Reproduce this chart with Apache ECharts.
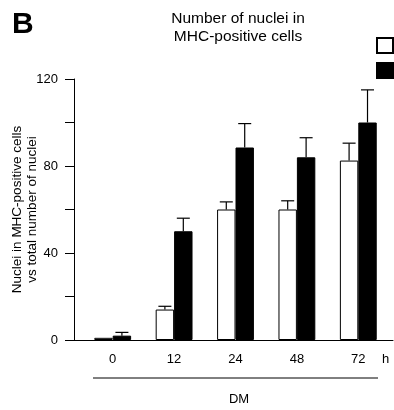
<!DOCTYPE html>
<html>
<head>
<meta charset="utf-8">
<script src="https://cdn.jsdelivr.net/npm/echarts@6/dist/echarts.min.js"></script>
<style>
  html, body { margin: 0; padding: 0; background: #fff; }
  #chart { width: 394px; height: 410px; }
</style>
</head>
<body>
<div id="chart"></div>
<script>
const categories = ['0', '12', '24', '48', '72'];
const openValues = [1, 14, 60, 60, 82.5];
const openErrors = [0, 1.5, 3.5, 4, 8];
const filledValues = [2, 50, 88.5, 84, 100];
const filledErrors = [1.5, 6, 11, 9, 15];
const yTickLabels = [0, 40, 80, 120];

const FONT = '"Liberation Sans", Arial, Helvetica, sans-serif';

const chart = echarts.init(document.getElementById('chart'), null, { renderer: 'canvas' });

// error bar drawn above each bar, shifted to its half of the category band
function errorBar(side) {
  return function (params, api) {
    const idx = api.value(0);
    const val = api.value(1);
    const err = api.value(2);
    if (!err) return null;
    const band = api.size([1, 0])[0];
    const base = api.coord([idx, val]);
    const top = api.coord([idx, val + err]);
    const x = base[0] + side * band * 0.15;
    const style = { stroke: '#000', lineWidth: 1.2 };
    return {
      type: 'group',
      children: [
        { type: 'line', shape: { x1: x, y1: base[1], x2: x, y2: top[1] }, style: style },
        { type: 'line', shape: { x1: x - 6.5, y1: top[1], x2: x + 6.5, y2: top[1] }, style: style },
      ],
    };
  };
}

chart.setOption({
  backgroundColor: '#fff',
  animation: false,
  textStyle: { fontFamily: FONT, color: '#000' },
  title: [
    {
      text: 'B',
      left: 7,
      top: 5,
      textStyle: { fontFamily: FONT, fontSize: 30, fontWeight: 'bold', color: '#000' },
    },
    {
      text: 'Number of nuclei in\nMHC-positive cells',
      left: 233,
      top: 5,
      textAlign: 'center',
      textStyle: { fontFamily: FONT, fontSize: 15.5, fontWeight: 'normal', lineHeight: 18, color: '#000' },
    },
    {
      text: 'DM',
      left: 234,
      top: 388,
      textAlign: 'center',
      textStyle: { fontFamily: FONT, fontSize: 13, fontWeight: 'normal', color: '#000' },
    },
  ],
  legend: {
    orient: 'vertical',
    left: 376,
    top: 37,
    padding: 0,
    itemGap: 8,
    itemWidth: 16,
    itemHeight: 15,
    icon: 'rect',
    formatter: () => '',
    data: ['open', 'filled'],
  },
  graphic: [
    {
      type: 'text',
      left: 382,
      top: 353,
      style: { text: 'h', font: '13px ' + FONT, fill: '#000' },
    },
    {
      type: 'line',
      shape: { x1: 93, y1: 378, x2: 378, y2: 378 },
      style: { stroke: '#000', lineWidth: 1 },
    },
  ],
  grid: [
    { left: 82, right: 5, top: 79, bottom: 70, outerBoundsMode: 'none', containLabel: false },
    { left: 74, right: 1, top: 79, bottom: 70, outerBoundsMode: 'none', containLabel: false },
  ],
  xAxis: [
    {
      type: 'category',
      gridIndex: 0,
      data: categories,
      axisLine: { show: false },
      axisTick: { show: false },
      axisLabel: { color: '#000', fontSize: 13, margin: 13, fontFamily: FONT },
    },
    {
      type: 'value',
      gridIndex: 1,
      min: 0,
      max: 1,
      axisLine: { show: true, onZero: false, lineStyle: { color: '#000', width: 1 } },
      axisTick: { show: false },
      axisLabel: { show: false },
      splitLine: { show: false },
    },
  ],
  yAxis: [
    {
      type: 'value',
      gridIndex: 0,
      min: 0,
      max: 120,
      show: false,
    },
    {
      type: 'value',
      gridIndex: 1,
      min: 0,
      max: 120,
      interval: 20,
      name: 'Nuclei in MHC-positive cells\nvs total number of nuclei',
      nameLocation: 'middle',
      nameGap: 34,
      nameMoveOverlap: false,
      nameTextStyle: { fontFamily: FONT, fontSize: 13.5, lineHeight: 15, color: '#000' },
      axisLine: { show: true, lineStyle: { color: '#000', width: 1 } },
      axisTick: { show: true, length: 9, lineStyle: { color: '#000', width: 1 } },
      axisLabel: {
        color: '#000',
        fontSize: 13,
        margin: 16,
        fontFamily: FONT,
        formatter: (v) => (yTickLabels.includes(v) ? String(v) : ''),
      },
      splitLine: { show: false },
    },
  ],
  series: [
    {
      name: 'open',
      type: 'bar',
      xAxisIndex: 0,
      yAxisIndex: 0,
      data: openValues,
      barGap: '0%',
      barCategoryGap: '40%',
      itemStyle: { color: '#fff', borderColor: '#000', borderWidth: 1 },
    },
    {
      name: 'filled',
      type: 'bar',
      xAxisIndex: 0,
      yAxisIndex: 0,
      data: filledValues,
      barGap: '0%',
      barCategoryGap: '40%',
      itemStyle: { color: '#000', borderColor: '#000', borderWidth: 1 },
    },
    {
      type: 'custom',
      xAxisIndex: 0,
      yAxisIndex: 0,
      renderItem: errorBar(-1),
      data: openValues.map((v, i) => [i, v, openErrors[i]]),
      z: 3,
    },
    {
      type: 'custom',
      xAxisIndex: 0,
      yAxisIndex: 0,
      renderItem: errorBar(1),
      data: filledValues.map((v, i) => [i, v, filledErrors[i]]),
      z: 3,
    },
  ],
});
</script>
</body>
</html>
